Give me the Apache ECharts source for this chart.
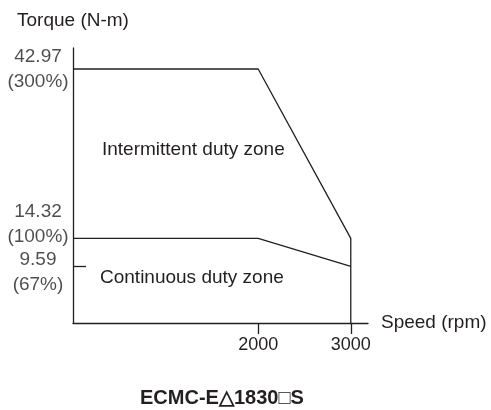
<!DOCTYPE html>
<html>
<head>
<meta charset="utf-8">
<script src="https://cdn.jsdelivr.net/npm/echarts@6/dist/echarts.min.js"></script>
<style>
  html, body { margin: 0; padding: 0; background: #fff; }
  #main { width: 491px; height: 410px; }
</style>
</head>
<body>
<div id="main"></div>
<script>
    // 数据
    var intermittentSpeed = [0, 2000, 3000, 3000];
    var intermittentTorque = [42.97, 42.97, 14.32, 0];
    var continuousSpeed = [0, 2000, 3000];
    var continuousTorque = [14.32, 14.32, 9.59];
    var speedTicks = [2000, 3000];
    var torqueTicks = [42.97, 14.32, 9.59];
    var torquePct = ['300%', '100%', '67%'];
    var modelName = 'ECMC-E\u25B31830\u25A1S';

    // 标签微调（像素）
    var labelShift = [0, -14, 6];

    var ink = '#231f20';
    var font = 'Arial, "Liberation Sans", sans-serif';

    function pairs(xs, ys) {
        return xs.map(function (x, i) { return [x, ys[i]]; });
    }

    var myChart = echarts.init(document.getElementById('main'));
    var option = {
        animation: false,
        textStyle: { fontFamily: font, color: ink },
        title: {
            text: modelName,
            left: 135,
            top: 383,
            textStyle: { fontFamily: font, fontSize: 20, fontWeight: 'bold', color: ink }
        },
        grid: { left: 73, right: 123, top: 48, bottom: 87 },
        xAxis: {
            type: 'value',
            min: 0,
            max: 3186,
            name: 'Speed (rpm)',
            nameLocation: 'end',
            nameGap: 13,
            nameTextStyle: { fontSize: 19, color: ink },
            axisLine: { lineStyle: { color: ink, width: 1.3 } },
            axisTick: { show: true, customValues: speedTicks, length: 11, lineStyle: { color: ink, width: 1.3 } },
            axisLabel: {
                customValues: speedTicks,
                margin: 13,
                fontSize: 18,
                color: ink,
                formatter: function (v) { return String(v); }
            },
            splitLine: { show: false }
        },
        yAxis: {
            type: 'value',
            min: 0,
            max: 46.52,
            name: 'Torque (N-m)',
            nameLocation: 'end',
            nameGap: 18,
            nameTextStyle: { fontSize: 19, color: ink },
            axisLine: { show: true, lineStyle: { color: ink, width: 1.3 } },
            axisTick: { show: true, customValues: [torqueTicks[2]], inside: true, length: 13, lineStyle: { color: ink, width: 1.3 } },
            axisLabel: { show: false },
            splitLine: { show: false }
        },
        graphic: [
            { type: 'text', left: 102, top: 140, style: { text: 'Intermittent duty zone', font: '19px ' + font, fill: ink } },
            { type: 'text', left: 100, top: 268, style: { text: 'Continuous duty zone', font: '19px ' + font, fill: ink } }
        ],
        series: [
            {
                name: 'Intermittent',
                type: 'line',
                data: pairs(intermittentSpeed, intermittentTorque),
                symbol: 'none',
                clip: false,
                lineStyle: { color: ink, width: 1.3 }
            },
            {
                name: 'Continuous',
                type: 'line',
                data: pairs(continuousSpeed, continuousTorque),
                symbol: 'none',
                clip: false,
                lineStyle: { color: ink, width: 1.3 }
            },
            {
                name: 'torque labels',
                type: 'scatter',
                symbolSize: 0,
                clip: false,
                silent: true,
                data: torqueTicks.map(function (v, i) {
                    return { value: [0, v], label: { offset: [0, labelShift[i]] } };
                }),
                label: {
                    show: true,
                    position: 'left',
                    distance: 35,
                    align: 'center',
                    verticalAlign: 'middle',
                    fontSize: 19,
                    lineHeight: 25,
                    color: ink,
                    formatter: function (p) {
                        return torqueTicks[p.dataIndex] + '\n(' + torquePct[p.dataIndex] + ')';
                    }
                }
            }
        ]
    };
    myChart.setOption(option);
</script>
</body>
</html>
